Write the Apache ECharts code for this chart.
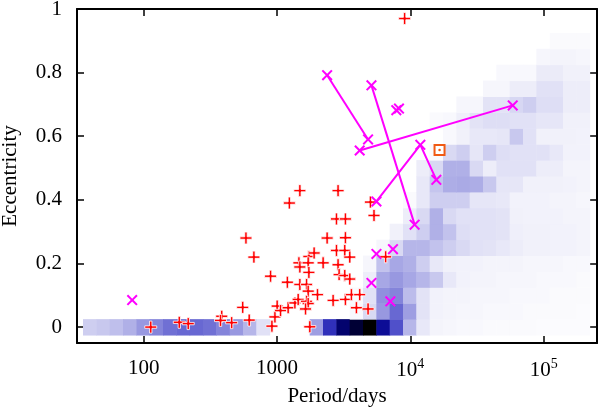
<!DOCTYPE html>
<html><head><meta charset="utf-8">
<script src="https://cdn.jsdelivr.net/npm/echarts@6/dist/echarts.min.js"></script>
<style>html,body{margin:0;padding:0;background:#fff}#c{width:600px;height:412px}</style>
</head><body><div id="c"></div>
<script>
// ---- data ----
const periodTicks = [100, 1000, 10000, 100000];
const eccTicks = [0, 0.2, 0.4, 0.6, 0.8, 1];

// 2-D histogram: bin centres in log10(P/days) and eccentricity
const logPeriodBins = [1.595,1.695,1.795,1.895,1.995,2.095,2.195,2.295,2.395,2.495,2.595,2.695,2.795,2.895,2.995,3.095,3.195,
  3.295,3.395,3.495,3.595,3.695,3.795,3.895,3.995,4.095,4.195,4.295,4.395,4.495,4.595,4.695,4.795,4.895,4.995,5.095,5.195,5.295];
const eccBins = [0,0.05,0.1,0.15,0.2,0.25,0.3,0.35,0.4,0.45,0.5,0.55,0.6,0.65,0.7,0.75,0.8,0.85,0.9,0.95];
const densityRows = [
 [22,24,27,32,40,45,50,52,52,50,45,40,30,15,0,0,0, 38,66,86,94,100,78,58,30,12,6,5,4,4,3,3,3,3,2,2,2,2],
 [0,0,0,0,0,0,0,0,0,0,0,0,0,0,0,0,0, 0,0,0,4,18,40,52,38,14,7,6,5,5,4,4,4,3,3,3,3,2],
 [0,0,0,0,0,0,0,0,0,0,0,0,0,0,0,0,0, 0,0,0,3,15,42,45,28,14,7,6,6,5,5,5,4,4,4,3,3,3],
 [0,0,0,0,0,0,0,0,0,0,0,0,0,0,0,0,0, 0,0,0,0,10,35,40,35,30,24,12,7,6,6,5,5,5,4,4,4,3],
 [0,0,0,0,0,0,0,0,0,0,0,0,0,0,0,0,0, 0,0,0,0,5,26,35,32,22,12,8,7,7,6,6,6,5,5,5,4,4],
 [0,0,0,0,0,0,0,0,0,0,0,0,0,0,0,0,0, 0,0,0,0,0,5,18,30,30,26,22,18,15,14,12,10,8,8,7,7,6],
 [0,0,0,0,0,0,0,0,0,0,0,0,0,0,0,0,0, 0,0,0,0,0,0,8,15,22,32,26,16,15,15,14,9,8,8,7,7,6],
 [0,0,0,0,0,0,0,0,0,0,0,0,0,0,0,0,0, 0,0,0,0,0,0,0,10,18,32,18,15,15,15,14,8,7,7,7,6,6],
 [0,0,0,0,0,0,0,0,0,0,0,0,0,0,0,0,0, 0,0,0,0,0,0,0,3,12,22,22,22,13,13,12,7,7,7,6,6,5],
 [0,0,0,0,0,0,0,0,0,0,0,0,0,0,0,0,0, 0,0,0,0,0,0,0,0,12,25,33,34,33,24,13,13,8,8,8,7,6],
 [0,0,0,0,0,0,0,0,0,0,0,0,0,0,0,0,0, 0,0,0,0,0,0,0,0,10,18,32,32,18,10,15,15,15,10,10,6,6],
 [0,0,0,0,0,0,0,0,0,0,0,0,0,0,0,0,0, 0,0,0,0,0,0,0,0,0,3,18,22,13,22,16,15,15,15,12,7,7],
 [0,0,0,0,0,0,0,0,0,0,0,0,0,0,0,0,0, 0,0,0,0,0,0,0,0,0,0,4,8,12,12,13,24,15,8,8,8,7],
 [0,0,0,0,0,0,0,0,0,0,0,0,0,0,0,0,0, 0,0,0,0,0,0,0,0,0,3,4,9,14,16,16,15,15,13,13,8,8],
 [0,0,0,0,0,0,0,0,0,0,0,0,0,0,0,0,0, 0,0,0,0,0,0,0,0,0,0,0,5,5,14,14,19,22,16,16,10,10],
 [0,0,0,0,0,0,0,0,0,0,0,0,0,0,0,0,0, 0,0,0,0,0,0,0,0,0,0,0,0,0,5,5,10,10,15,15,10,10],
 [0,0,0,0,0,0,0,0,0,0,0,0,0,0,0,0,0, 0,0,0,0,0,0,0,0,0,0,0,0,0,0,4,4,4,11,11,8,8],
 [0,0,0,0,0,0,0,0,0,0,0,0,0,0,0,0,0, 0,0,0,0,0,0,0,0,0,0,0,0,0,0,0,0,0,5,6,6,5],
 [0,0,0,0,0,0,0,0,0,0,0,0,0,0,0,0,0, 0,0,0,0,0,0,0,0,0,0,0,0,0,0,0,0,0,0,3,3,3],
 [0,0,0,0,0,0,0,0,0,0,0,0,0,0,0,0,0, 0,0,0,0,0,0,0,0,0,0,0,0,0,0,0,0,0,0,0,0,0]
];

// red "+" points
const plusPeriods = [113,185,216,385,377,457,553,585,619,671,895,916,965,1003,1063,1196,1238,1213,1362,1442,
  1460,1484,1484,1484,1666,1714,1666,1714,1637,1734,1714,1734,1899,2012,2218,1762,2377,2636,2793,3260,
  2793,3222,2871,2871,2924,3222,3513,3260,3513,3260,3615,4170,3942,4820,5020,5340,6530,9060];
const plusEcc = [0.00,0.015,0.011,0.034,0.021,0.014,0.062,0.280,0.022,0.220,0.160,0.003,0.032,0.066,0.052,0.141,0.390,0.061,0.076,0.087,
  0.202,0.189,0.429,0.134,0.134,0.113,0.081,0.074,0.057,0.222,0.202,0.172,0.233,0.102,0.202,0.001,0.280,0.084,0.340,0.340,
  0.241,0.241,0.429,0.196,0.165,0.162,0.151,0.281,0.220,0.087,0.102,0.102,0.061,0.057,0.393,0.351,0.221,0.970];

// magenta "x" points
const crossPeriods = [82,2377,4820,5110,10770,7850,8220,4170,58600,11890,15670,5570,5570,7410,5110,7080];
const crossEcc = [0.085,0.792,0.590,0.760,0.322,0.682,0.687,0.555,0.697,0.573,0.463,0.395,0.230,0.245,0.139,0.081];
// connected solutions (indices into the cross arrays)
const crossLinks = [[1,2],[3,4],[7,8],[11,9,10]];

// orange square
const squarePeriod = [16560];
const squareEcc = [0.557];

// ---- chart ----
const FONT = 'Liberation Serif';
const HALF = Math.pow(10, 0.05);
const heatData = [];
densityRows.forEach((row, r) => row.forEach((v, k) => {
  if (v > 0) heatData.push([Math.pow(10, logPeriodBins[k]), eccBins[r], v]);
}));
const zip = (a, b) => a.map((v, i) => [v, b[i]]);

const plusPath = 'path://M4,0H6V4H10V6H6V10H4V6H0V4H4Z';
const crossPath = 'path://M0,1.3L1.3,0L5,3.7L8.7,0L10,1.3L6.3,5L10,8.7L8.7,10L5,6.3L1.3,10L0,8.7L3.7,5Z';

const xCommon = {
  type: 'log', logBase: 10, min: Math.pow(10, 1.5), max: Math.pow(10, 5.4),
  splitLine: { show: false }, minorTick: { show: false },
  axisLine: { show: true, onZero: false, lineStyle: { color: '#000', width: 2 } },
  axisTick: { show: true, inside: true, length: 7, customValues: periodTicks, lineStyle: { color: '#000', width: 1.5 } }
};
const yCommon = {
  type: 'value', min: -0.05, max: 1,
  splitLine: { show: false },
  axisLine: { show: true, onZero: false, lineStyle: { color: '#000', width: 2 } },
  axisTick: { show: true, inside: true, length: 7, customValues: eccTicks, lineStyle: { color: '#000', width: 1.5 } }
};

const option = {
  backgroundColor: '#fff',
  animation: false,
  textStyle: { fontFamily: FONT },
  grid: { left: 77, right: 3, top: 9, bottom: 69, containLabel: false, outerBoundsMode: 'none' },
  visualMap: {
    show: false, type: 'continuous', seriesIndex: 0, dimension: 2, min: 0, max: 100,
    inRange: { color: ['#ffffff','#ededf9','#d4d4f2','#b6b6e9','#9898e0','#7070d4','#4848c8','#2020b0','#080890','#000058','#000000'] }
  },
  xAxis: [
    Object.assign({}, xCommon, {
      position: 'bottom',
      name: 'Period/days', nameLocation: 'middle', nameGap: 41,
      nameTextStyle: { fontFamily: FONT, fontSize: 21, color: '#000' },
      axisLabel: {
        show: true, margin: 14, customValues: periodTicks, color: '#000', fontFamily: FONT, fontSize: 21,
        formatter: v => {
          if (Math.abs(v - 10000) < 1) return '{b|10}{s|4}';
          if (Math.abs(v - 100000) < 1) return '{b|10}{s|5}';
          return '{p|' + Math.round(v) + '}';
        },
        rich: {
          p: { fontFamily: FONT, fontSize: 21, color: '#000', lineHeight: 22 },
          b: { fontFamily: FONT, fontSize: 21, color: '#000', lineHeight: 27 },
          s: { fontFamily: FONT, fontSize: 14, color: '#000', verticalAlign: 'top' }
        }
      }
    }),
    Object.assign({}, xCommon, { position: 'top', axisLabel: { show: false } })
  ],
  yAxis: [
    Object.assign({}, yCommon, {
      position: 'left',
      name: 'Eccentricity', nameLocation: 'middle', nameGap: 56, nameRotate: 90,
      nameTextStyle: { fontFamily: FONT, fontSize: 21, color: '#000' },
      axisLabel: { show: true, margin: 15, customValues: eccTicks, color: '#000', fontFamily: FONT, fontSize: 21,
        formatter: v => String(v) }
    }),
    Object.assign({}, yCommon, { position: 'right', axisLabel: { show: false } })
  ],
  series: [
    {
      type: 'custom', xAxisIndex: 0, yAxisIndex: 0, data: heatData, encode: { x: 0, y: 1 }, z: 1, silent: true,
      renderItem: (params, api) => {
        const p = api.value(0), e = api.value(1);
        const a = api.coord([p / HALF, e + 0.025]);
        const b = api.coord([p * HALF, e - 0.025]);
        return { type: 'rect', shape: { x: a[0], y: a[1], width: b[0] - a[0] + 0.5, height: b[1] - a[1] + 0.5 },
                 style: { fill: api.visual('color') } };
      }
    },
    ...crossLinks.map(idx => ({
      type: 'line', xAxisIndex: 0, yAxisIndex: 0, z: 3, symbol: 'none', silent: true,
      data: idx.map(i => [crossPeriods[i], crossEcc[i]]),
      lineStyle: { color: '#ff00ff', width: 2 }
    })),
    {
      type: 'scatter', xAxisIndex: 0, yAxisIndex: 0, z: 4, symbol: plusPath, symbolSize: 12,
      data: zip(plusPeriods, plusEcc),
      itemStyle: { color: '#ff0000', borderColor: '#ffffff', borderWidth: 0.8, opacity: 1 }
    },
    {
      type: 'scatter', xAxisIndex: 0, yAxisIndex: 0, z: 5, symbol: crossPath, symbolSize: 11,
      data: zip(crossPeriods, crossEcc),
      itemStyle: { color: '#ff00ff', opacity: 1 }
    },
    {
      type: 'scatter', xAxisIndex: 0, yAxisIndex: 0, z: 5, symbol: 'emptyRect', symbolSize: 10,
      data: zip(squarePeriod, squareEcc),
      itemStyle: { color: '#f05a14', borderColor: '#f05a14', borderWidth: 2, opacity: 1 }
    },
    {
      type: 'scatter', xAxisIndex: 0, yAxisIndex: 0, z: 6, symbol: 'circle', symbolSize: 2.5,
      data: zip(squarePeriod, squareEcc),
      itemStyle: { color: '#f05a14', opacity: 1 }
    }
  ]
};
const chart = echarts.init(document.getElementById('c'), null, { renderer: 'canvas' });
chart.setOption(option);
</script>
</body></html>
